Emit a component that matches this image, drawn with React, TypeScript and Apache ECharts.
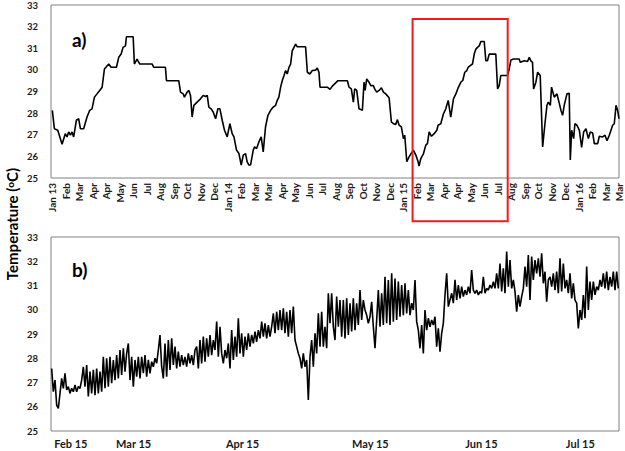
import React, { useEffect, useRef } from "react";
import * as echarts from "echarts";

const FONT = "Lato, 'Open Sans', 'DejaVu Sans', sans-serif";

// ---- panel a) : tick labels (month labels, one per tick unit) ----
const topMonthLabels = [
  "Jan 13", "Feb", "Mar", "Apr", "Apr", "May", "Jun", "Jul", "Aug", "Sep", "Oct", "Nov", "Dec",
  "Jan 14", "Feb", "Mar", "Mar", "Apr", "May", "Jun", "Jul", "Aug", "Sep", "Oct", "Nov", "Dec",
  "Jan 15", "Feb", "Mar", "Apr", "Apr", "May", "Jun", "Jul", "Aug", "Sep", "Oct", "Nov", "Dec",
  "Jan 16", "Feb", "Mar", "Mar",
];
const topTickValues = topMonthLabels.map((_, i) => i);

// panel a) series: [position in tick units, temperature °C]
const topSeries: [number, number][] = [
  [0, 28.13], [0.15, 27.28], [0.4, 27.21], [0.72, 26.56], [0.96, 27.05], [1.09, 26.9], [1.21, 27.13],
  [1.34, 26.98], [1.46, 27.13], [1.58, 26.9], [1.78, 27.67], [1.95, 27.74], [2.08, 27.28], [2.32, 27.28],
  [2.57, 27.82], [2.77, 28.13], [2.94, 28.2], [3.12, 28.74], [3.31, 28.89], [3.51, 29.05], [3.69, 29.2],
  [3.86, 30.04], [4.18, 30.27], [4.35, 30.12], [4.75, 30.12], [4.92, 30.58], [5.1, 30.73], [5.24, 31.04],
  [5.42, 31.11], [5.49, 31.53], [5.99, 31.53], [6.08, 30.27], [6.28, 30.5], [6.48, 30.27], [7.4, 30.27],
  [7.52, 30.12], [8.38, 30.12], [8.46, 29.5], [9.37, 29.5], [9.5, 28.97], [9.7, 28.89], [9.79, 28.74],
  [9.99, 28.97], [10.12, 29.05], [10.24, 28.82], [10.36, 27.82], [10.49, 28.36], [10.73, 28.51],
  [10.98, 28.66], [11.18, 28.82], [11.35, 28.77], [11.48, 28.82], [11.6, 28.28], [11.77, 28.2],
  [11.92, 28.05], [12.1, 27.74], [12.27, 28.2], [12.42, 28.2], [12.59, 27.67], [12.76, 27.21],
  [12.96, 26.9], [13.16, 27.51], [13.33, 27.05], [13.46, 26.9], [13.65, 26.29], [13.83, 26.13],
  [14.0, 25.6], [14.15, 26.06], [14.32, 26.13], [14.44, 25.75], [14.57, 25.6], [14.69, 25.6],
  [14.89, 26.29], [14.99, 26.44], [15.14, 26.36], [15.31, 26.67], [15.48, 26.9], [15.63, 26.21],
  [15.8, 27.36], [15.98, 27.9], [16.18, 28.13], [16.37, 28.28], [16.55, 28.36], [16.67, 28.59],
  [16.79, 28.74], [16.92, 29.2], [17.04, 29.5], [17.17, 29.74], [17.29, 29.97], [17.41, 29.81],
  [17.54, 30.12], [17.66, 30.27], [17.78, 30.88], [18.03, 31.19], [18.15, 31.07], [18.77, 31.07],
  [18.9, 29.89], [19.09, 29.81], [19.27, 29.97], [19.52, 29.99], [19.64, 30.09], [19.76, 29.89],
  [19.84, 29.2], [20.13, 29.2], [20.38, 29.2], [20.58, 29.1], [20.75, 29.25], [21.0, 29.4],
  [21.17, 29.5], [21.87, 29.5], [21.99, 29.2], [22.16, 29.12], [22.31, 28.51], [22.41, 29.12],
  [22.56, 29.05], [22.73, 28.2], [22.91, 28.16], [22.98, 28.12], [23.1, 29.43], [23.18, 29.05],
  [23.3, 29.58], [23.47, 29.43], [23.6, 29.27], [23.8, 29.27], [23.89, 29.12], [24.04, 28.97],
  [24.22, 29.05], [24.39, 29.17], [24.54, 28.97], [24.71, 28.89], [24.96, 28.71], [25.13, 27.59],
  [25.28, 27.51], [25.45, 27.48], [25.58, 27.7], [25.7, 27.44], [25.87, 27.36], [26.02, 26.82],
  [26.12, 26.98], [26.27, 25.75], [26.44, 25.98], [26.62, 26.16], [26.76, 26.29], [26.94, 26.06],
  [27.11, 25.75], [27.18, 25.55], [27.31, 25.9], [27.51, 26.13], [27.68, 26.52], [27.8, 26.59],
  [27.93, 27.13], [28.1, 26.93], [28.3, 27.05], [28.5, 27.21], [28.59, 27.44], [28.79, 27.51],
  [28.99, 27.97], [29.16, 28.2], [29.34, 28.59], [29.53, 27.82], [29.73, 28.66], [29.91, 28.89],
  [30.08, 29.17], [30.28, 29.43], [30.42, 29.51], [30.57, 29.89], [30.72, 29.97], [30.82, 30.12],
  [30.97, 30.2], [31.14, 30.27], [31.27, 30.73], [31.39, 30.96], [31.51, 31.04], [31.64, 31.11],
  [31.76, 31.31], [32.01, 31.31], [32.13, 30.42], [32.25, 30.42], [32.38, 30.73], [32.87, 30.73],
  [33.0, 29.12], [33.12, 29.27], [33.24, 29.74], [33.74, 29.74], [33.86, 30.04], [33.99, 30.46],
  [34.18, 30.5], [34.6, 30.5], [34.68, 30.35], [34.98, 30.42], [35.22, 30.39], [35.35, 30.58],
  [35.47, 30.42], [35.59, 30.35], [35.67, 29.12], [35.84, 29.43], [35.97, 29.89], [36.16, 29.74],
  [36.34, 26.44], [36.51, 27.51], [36.66, 28.36], [36.76, 28.51], [36.91, 28.36], [37.0, 29.2],
  [37.2, 28.74], [37.4, 28.89], [37.57, 28.46], [37.7, 28.12], [37.82, 27.9], [37.94, 28.36],
  [38.14, 28.89], [38.31, 28.92], [38.39, 25.83], [38.49, 27.21], [38.64, 26.82], [38.73, 27.51],
  [38.88, 27.44], [39.06, 27.21], [39.23, 26.41], [39.38, 27.13], [39.55, 27.28], [39.73, 26.82],
  [39.87, 27.13], [40.05, 27.08], [40.17, 26.59], [40.42, 26.59], [40.54, 26.93], [40.79, 26.9],
  [40.96, 26.98], [41.11, 26.72], [41.28, 26.98], [41.53, 27.44], [41.65, 27.51], [41.78, 28.36],
  [41.9, 28.12], [42.0, 27.74],
];

// highlighted period on panel a) (tick units / °C)
const highlightFrom = 26.7;
const highlightTo = 33.75;
const highlightTop = 32.35;
const highlightBottom = 23.0;

// ---- panel b) ----
const bottomLabels = ["Feb 15", "Mar 15", "Apr 15", "May 15", "Jun 15", "Jul 15"];
const bottomLabelAt = [11.5, 49.2, 114.5, 191.2, 257.8, 317.2];

const bottomFeb = [
  27.58, 26.62, 27.1, 26.07, 25.93, 26.55, 27.17, 26.76, 27.38, 26.69,
  26.83, 26.55, 26.76, 26.62, 26.9, 26.62, 26.83, 26.76, 27.1, 27.65,
  26.83, 27.72, 26.42, 27.45, 26.55, 27.52, 26.48, 27.58, 26.55, 27.45,
  26.62, 28.06, 26.76, 28.0, 26.83, 28.06, 26.97, 27.93, 27.1, 28.13,
  27.17, 28.34, 27.31, 28.41, 27.45, 28.2, 28.61, 27.1, 28.06, 26.83,
  27.93, 27.24, 28.06, 27.17, 28.06, 27.38, 28.13, 27.24, 27.93, 27.38,
  27.86, 27.65, 28.0, 27.79, 28.34, 28.96, 27.65, 27.17, 28.61, 27.24,
  28.75, 27.52, 28.82, 27.72, 28.48, 27.58, 28.27, 27.65, 28.13, 27.72,
  28.06, 27.65, 28.2, 27.79, 28.13, 27.72, 28.34,
];
const bottomApr = [
  28.48, 27.58, 28.75, 27.79, 28.89, 27.86, 28.82, 28.06, 28.96, 28.13,
  28.75, 28.34, 29.51, 28.06, 29.3, 28.2, 27.79, 28.34, 28.0, 28.61,
  27.58, 29.16, 27.93, 28.89, 28.06, 29.65, 28.2, 29.03, 28.06, 28.89,
  28.34, 29.03, 28.48, 28.96, 28.61, 29.1, 28.68, 29.16, 28.82, 29.51,
  28.89, 29.44, 28.82, 29.37, 28.89, 29.3, 29.85, 29.03, 29.92, 29.16,
  29.99, 29.16, 30.06, 29.03, 29.92, 28.89, 29.99, 29.03, 30.13, 28.75,
  28.48, 28.2, 28.0, 27.58, 28.2, 27.65, 27.93, 26.28, 28.06, 28.75,
  27.65, 29.03, 28.2, 29.85, 28.48, 29.92, 28.48, 29.3, 28.41, 30.68,
  29.44, 30.68, 29.3,
];
const bottomMay = [
  28.75, 30.54, 29.3, 30.4, 28.89, 30.4, 28.82, 30.47, 28.96, 30.27,
  29.1, 30.47, 29.16, 30.27, 29.37, 30.81, 29.58, 30.4, 29.99, 29.78,
  29.44, 29.71, 30.33, 29.3, 28.41, 29.58, 30.81, 29.3, 30.68, 29.37,
  31.36, 29.44, 31.23, 29.37, 31.5, 29.51, 31.29, 29.58, 31.16, 29.71,
  31.02, 29.78, 31.09, 29.85, 30.81, 29.78, 30.27, 29.99, 31.23, 29.51,
  29.16, 28.41, 29.37, 28.2, 29.99, 29.16, 29.65, 29.3, 29.58, 29.37,
  29.71, 28.48, 29.23, 28.27, 29.03, 29.44, 30.61, 31.5, 30.13, 30.4,
  30.68, 30.27, 31.23, 30.4, 31.02, 30.47, 30.95, 30.54, 30.81, 30.61,
  30.95, 30.68, 31.64, 30.81,
];
const bottomJun = [
  30.68, 30.81, 30.61, 30.75, 30.68, 31.36, 30.68, 30.88, 30.81, 31.02,
  30.88, 31.16, 30.88, 31.5, 30.88, 31.91, 30.75, 31.71, 30.68, 32.4,
  30.95, 32.05, 30.88, 31.23, 30.75, 29.92, 30.61, 30.13, 30.54, 30.88,
  31.78, 30.95, 32.26, 30.4, 32.19, 31.23, 32.05, 31.5, 32.12, 31.36,
  32.33, 31.09, 31.57, 30.33, 31.23, 31.36, 30.95, 31.5, 30.81, 31.57,
  30.68, 32.12, 30.75, 31.91, 30.88, 31.23, 30.68, 31.5, 30.47, 31.09,
  30.4, 30.27, 29.23, 29.99, 29.58, 30.61, 29.65, 31.78, 29.99, 31.16,
  30.4, 31.16, 30.61, 30.95, 30.81, 31.23, 30.95, 31.5, 30.88, 31.57,
  30.81, 31.36, 30.95, 31.57, 30.81, 31.57, 30.88,
];
const bottomValues = [...bottomFeb, ...bottomApr, ...bottomMay, ...bottomJun];

const yMin = 25;
const yMax = 33;

export default function App() {
  const ref = useRef<HTMLDivElement>(null);

  useEffect(() => {
    document.body.style.margin = "0";
    if (!ref.current) return;
    const chart = echarts.init(ref.current, null, { renderer: "svg" });

    const labelStyle = { fontFamily: FONT, fontWeight: "bold" as const, color: "#1a1a1a" };

    chart.setOption({
      animation: false,
      backgroundColor: "#ffffff",
      grid: [
        { left: 51, right: 6, top: 4, height: 174, show: true, borderColor: "#808080", borderWidth: 1 },
        { left: 51, right: 6, top: 237, height: 194, show: true, borderColor: "#808080", borderWidth: 1 },
      ],
      xAxis: [
        {
          type: "value",
          gridIndex: 0,
          min: -0.1,
          max: 42,
          splitLine: { show: false },
          axisLine: { show: false },
          axisTick: { show: false },
          axisLabel: {
            ...labelStyle,
            customValues: topTickValues,
            rotate: 90,
            fontSize: 10,
            margin: 5,
            formatter: (v: number) => topMonthLabels[Math.round(v)] ?? "",
          },
        },
        {
          type: "value",
          gridIndex: 1,
          min: -0.4,
          max: bottomValues.length - 1 + 0.4,
          splitLine: { show: false },
          axisLine: { show: false },
          axisTick: { show: false },
          axisLabel: {
            ...labelStyle,
            customValues: bottomLabelAt,
            fontSize: 11,
            margin: 7,
            formatter: (v: number) => {
              const k = bottomLabelAt.findIndex((p) => Math.abs(p - v) < 1e-6);
              return k >= 0 ? bottomLabels[k] : "";
            },
          },
        },
      ],
      yAxis: [0, 1].map((g) => ({
        type: "value",
        gridIndex: g,
        min: yMin,
        max: yMax,
        interval: 1,
        splitLine: { show: false },
        axisLine: { show: false },
        axisTick: { show: false },
        axisLabel: { ...labelStyle, fontSize: 9.5, margin: 13 },
      })),
      series: [
        {
          type: "line",
          xAxisIndex: 0,
          yAxisIndex: 0,
          data: topSeries,
          symbol: "none",
          lineStyle: { color: "#000", width: 1.6 },
        },
        {
          type: "line",
          xAxisIndex: 1,
          yAxisIndex: 1,
          data: bottomValues.map((v, i) => [i, v]),
          symbol: "none",
          lineStyle: { color: "#000", width: 1.6 },
        },
      ],
    });

    const p1 = chart.convertToPixel({ gridIndex: 0 }, [highlightFrom, highlightTop]) as number[];
    const p2 = chart.convertToPixel({ gridIndex: 0 }, [highlightTo, highlightBottom]) as number[];

    chart.setOption({
      graphic: [
        {
          type: "rect",
          shape: { x: p1[0], y: p1[1], width: p2[0] - p1[0], height: p2[1] - p1[1] },
          style: { fill: "none", stroke: "#ee1c1c", lineWidth: 2 },
          z: 100,
        },
        {
          type: "text",
          x: 72,
          y: 30,
          style: { text: "a)", fontSize: 19, fontWeight: "bold", fontFamily: FONT, fill: "#000" },
        },
        {
          type: "text",
          x: 72,
          y: 260,
          style: { text: "b)", fontSize: 19, fontWeight: "bold", fontFamily: FONT, fill: "#000" },
        },
        {
          type: "text",
          x: 12,
          y: 224,
          rotation: Math.PI / 2,
          style: {
            text: "{n|Temperature (}{s|o}{n|C)}",
            align: "center",
            verticalAlign: "middle",
            fill: "#000",
            rich: {
              n: { fontSize: 15, fontWeight: "bold", fontFamily: FONT, fill: "#000" },
              s: { fontSize: 10, fontWeight: "bold", fontFamily: FONT, fill: "#000", verticalAlign: "top" },
            },
          },
        },
      ],
    });

    return () => chart.dispose();
  }, []);

  return <div ref={ref} style={{ width: 625, height: 451 }} />;
}
